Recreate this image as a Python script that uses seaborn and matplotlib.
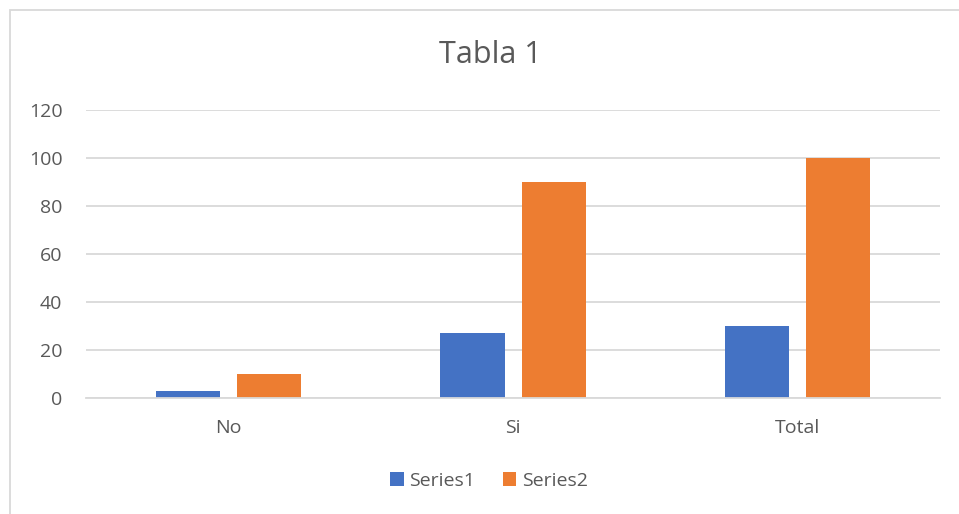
import matplotlib

matplotlib.use("Agg")

import matplotlib.pyplot as plt
import pandas as pd
import seaborn as sns
from matplotlib.patches import Rectangle


categories = ["No", "Si", "Total"]
series_names = ["Series1", "Series2"]
series1 = [3, 27, 30]
series2 = [10, 90, 100]
y_ticks = [0, 20, 40, 60, 80, 100, 120]

COLORS = ["#4472C4", "#ED7D31"]
TEXT = "#595959"
GRID = "#D9D9D9"


def build_frame():
	rows = []
	for name, values in zip(series_names, [series1, series2]):
		for cat, val in zip(categories, values):
			rows.append({"category": cat, "series": name, "value": val})
	return pd.DataFrame(rows)


def main():
	sns.set_style("white")
	plt.rcParams["font.family"] = ["Open Sans", "DejaVu Sans"]

	df = build_frame()
	fig = plt.figure(figsize=(9.59, 5.14), dpi=100)
	ax = fig.add_axes([0.0897, 0.2257, 0.8906, 0.5603])

	sns.barplot(
		data=df, x="category", y="value", hue="series", order=categories,
		hue_order=series_names, palette=COLORS, width=0.57, gap=0.21,
		saturation=1, errorbar=None, ax=ax, legend=True, linewidth=0,
	)

	ax.set_ylim(0, 120)
	ax.set_yticks(y_ticks)
	ax.set_xlim(-0.5, len(categories) - 0.5)
	ax.yaxis.grid(True, color=GRID, linewidth=1.3)
	ax.set_axisbelow(True)
	for side in ["top", "right", "left"]:
		ax.spines[side].set_visible(False)
	ax.spines["bottom"].set_color(GRID)
	ax.spines["bottom"].set_linewidth(1.3)
	ax.tick_params(axis="both", length=0, labelsize=14, labelcolor=TEXT)
	ax.tick_params(axis="y", pad=17)
	ax.tick_params(axis="x", pad=15)
	ax.set_xlabel("")
	ax.set_ylabel("")

	handles, labels = ax.get_legend_handles_labels()
	ax.get_legend().remove()
	fig.legend(
		handles, labels, loc="center", bbox_to_anchor=(0.51, 0.064), ncol=2,
		frameon=False, fontsize=14, labelcolor=TEXT, handlelength=0.7,
		handleheight=0.7, handletextpad=0.3, columnspacing=1.4,
	)

	fig.text(0.511, 0.893, "Tabla 1", ha="center", va="center", fontsize=22, color=TEXT)

	fig.patches.append(Rectangle(
		(10 / 959, -0.1), 1.2, 1 - 10 / 514 + 0.1, transform=fig.transFigure,
		fill=False, edgecolor=GRID, linewidth=1.3,
	))

	fig.savefig("out.png", dpi=100)
	plt.close(fig)


if __name__ == "__main__":
	main()
